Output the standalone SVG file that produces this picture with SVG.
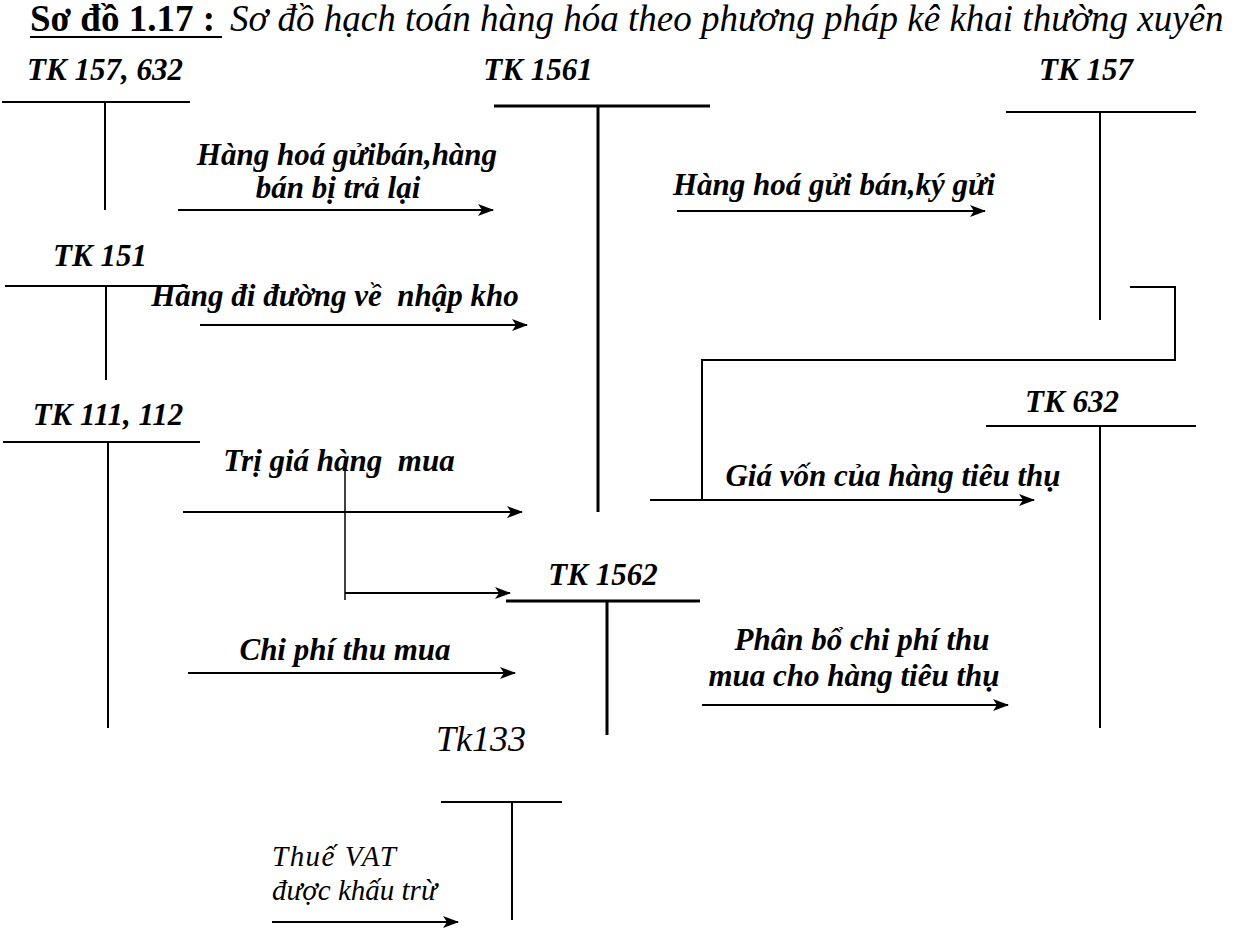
<svg xmlns="http://www.w3.org/2000/svg" width="1248" height="932" viewBox="0 0 1248 932" font-family="Liberation Serif">
<style>
text{font-family:'Liberation Serif',serif;fill:#000}
.t{font-size:37px}
.tb{font-weight:bold}
.ti{font-style:italic}
.k{font-size:36px;font-style:italic}
.lb{font-size:31px;font-weight:bold;font-style:italic}
.m{text-anchor:middle}
.ln{font-size:29px;font-style:italic}
.acc{stroke:#000;stroke-width:2;fill:none}
.acct{stroke:#000;stroke-width:3;fill:none}
.ar{stroke:#000;stroke-width:2.2;fill:none;marker-end:url(#ah)}
.th{stroke:#000;stroke-width:1.5;fill:none}
</style>
<defs>
<marker id="ah" viewBox="0 0 16 12" refX="15" refY="6" markerWidth="16" markerHeight="12" markerUnits="userSpaceOnUse" orient="auto">
<path d="M0,0 L16,6 L0,12 L4,6 z" fill="#000"/>
</marker>
</defs>
<g id="title">
<text class="t tb" x="30" y="31">Sơ đồ 1.17 :</text>
<line x1="30" y1="37" x2="222" y2="37" stroke="#000" stroke-width="2"/>
<text class="t ti" x="230" y="31">Sơ đồ hạch toán hàng hóa theo phương pháp kê khai thường xuyên</text>
</g>
<g id="tk157_632">
<text class="lb m" x="105" y="80">TK 157, 632</text>
<path class="acc" d="M2,102 H190 M105,102 V210"/>
</g>
<g id="tk1561">
<text class="lb m" x="538" y="80">TK 1561</text>
<path class="acct" d="M494,106 H710 M598,106 V512"/>
</g>
<g id="tk157">
<text class="lb m" x="1086" y="80">TK 157</text>
<path class="acc" d="M1006,112 H1196 M1100,112 V320"/>
</g>
<g id="tk151">
<text class="lb m" x="100" y="266">TK 151</text>
<path class="acc" d="M5,286 H188 M106,286 V380"/>
</g>
<g id="tk111_112">
<text class="lb m" x="108" y="425">TK 111, 112</text>
<path class="acc" d="M3,442 H200 M108,442 V728"/>
</g>
<g id="tk1562">
<text class="lb m" x="603" y="585">TK 1562</text>
<path class="acct" d="M506,601 H700 M607,601 V735"/>
</g>
<g id="tk632">
<text class="lb m" x="1072" y="412">TK 632</text>
<path class="acc" d="M986,426 H1196 M1100,426 V728"/>
</g>
<g id="tk133">
<text class="k m" x="481" y="751">Tk133</text>
<path class="acc" d="M441,802 H562 M512,802 V920"/>
</g>
<g id="connectors">
<path class="ar" d="M178,210 H493"/>
<text class="lb m" x="347" y="165">Hàng hoá gửibán,hàng</text>
<text class="lb m" x="338" y="198">bán bị trả lại</text>
<path class="ar" d="M677,211 H985"/>
<text class="lb m" x="834" y="195">Hàng hoá gửi bán,ký gửi</text>
<path class="ar" d="M200,325 H527"/>
<text class="lb m" x="335" y="306" xml:space="preserve">Hàng đi đường về  nhập kho</text>
<path class="ar" d="M183,512 H522"/>
<text class="lb m" x="339" y="471" xml:space="preserve">Trị giá hàng  mua</text>
<path class="th" d="M345,465 V600"/>
<path class="ar" d="M345,593 H510"/>
<path class="ar" d="M188,673 H515"/>
<text class="lb m" x="345" y="660">Chi phí thu mua</text>
<path class="acc" d="M1130,287 H1175 V360 H702 V500"/>
<path class="ar" d="M650,500 H1034"/>
<text class="lb m" x="893" y="486">Giá vốn của hàng tiêu thụ</text>
<path class="ar" d="M702,705 H1008"/>
<text class="lb m" x="862" y="650">Phân bổ chi phí thu</text>
<text class="lb m" x="854" y="686">mua cho hàng tiêu thụ</text>
<path class="ar" d="M272,922 H458"/>
<text class="ln" x="272" y="866" textLength="124" lengthAdjust="spacing">Thuế VAT</text>
<text class="ln" x="272" y="900">được khấu trừ</text>
</g>
</svg>
